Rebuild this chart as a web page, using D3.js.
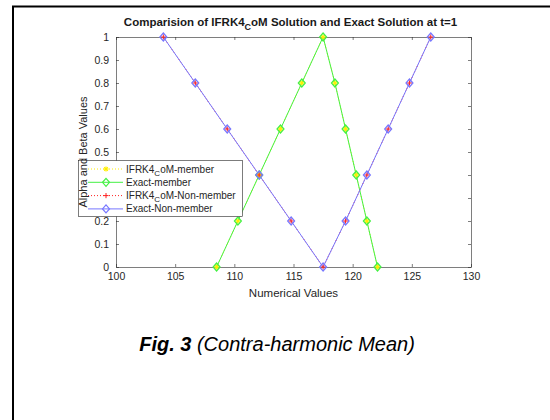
<!DOCTYPE html>
<html>
<head>
<meta charset="utf-8">
<script src="https://cdn.jsdelivr.net/npm/d3@7"></script>
<style>
  body { margin: 0; background: #fff; }
  svg { display: block; font-family: "Liberation Sans", Arial, sans-serif; }
</style>
</head>
<body>
<div id="chart"></div>
<script>
// values
var alphaLevels = [0, 0.2, 0.4, 0.6, 0.8, 1, 0.8, 0.6, 0.4, 0.2, 0];
var memberX = [108.5, 110.3, 112.1, 113.9, 115.7, 117.5, 118.5, 119.4, 120.3, 121.2, 122.1];
var betaLevels = [1, 0.8, 0.6, 0.4, 0.2, 0, 0.2, 0.4, 0.6, 0.8, 1];
var nonMemberX = [104.0, 106.7, 109.4, 112.1, 114.8, 117.5, 119.4, 121.2, 123.0, 124.8, 126.6];
var xTicks = [100, 105, 110, 115, 120, 125, 130];
var yTicks = [0, 0.1, 0.2, 0.3, 0.4, 0.5, 0.6, 0.7, 0.8, 0.9, 1];
var legendNames = ["IFRK4|oM-member", "Exact-member", "IFRK4|oM-Non-member", "Exact-Non-member"];

var svgWidth = 550, svgHeight = 420;
var plot = { left: 116, right: 471, top: 37, bottom: 267 };

var svg = d3.select("#chart").append("svg")
  .attr("width", svgWidth)
  .attr("height", svgHeight);

// page frame (only top and left edges show)
svg.append("path")
  .attr("d", "M13,420 V6.5 H550")
  .attr("fill", "none")
  .attr("stroke", "#000")
  .attr("stroke-width", 2);

var x = d3.scaleLinear().domain([100, 130]).range([plot.left, plot.right]);
var y = d3.scaleLinear().domain([0, 1]).range([plot.bottom, plot.top]);

var axisColor = "#262626";

// axes with ticks inward, box on all four sides
var gx = svg.append("g").attr("transform", `translate(0,${plot.bottom})`)
  .call(d3.axisBottom(x).tickValues(xTicks).tickSizeInner(-3).tickSizeOuter(0).tickPadding(6).tickFormat(d3.format("d")));
var gxTop = svg.append("g").attr("transform", `translate(0,${plot.top})`)
  .call(d3.axisTop(x).tickValues(xTicks).tickSizeInner(-3).tickSizeOuter(0).tickFormat(""));
var gy = svg.append("g").attr("transform", `translate(${plot.left},0)`)
  .call(d3.axisLeft(y).tickValues(yTicks).tickSizeInner(-3).tickSizeOuter(0).tickPadding(7).tickFormat(d => d3.format("")(+d.toFixed(1))));
var gyRight = svg.append("g").attr("transform", `translate(${plot.right},0)`)
  .call(d3.axisRight(y).tickValues(yTicks).tickSizeInner(-3).tickSizeOuter(0).tickFormat(""));

[gx, gxTop, gy, gyRight].forEach(function(g) {
  g.selectAll("path, line").attr("stroke", axisColor).attr("stroke-width", 0.6);
  g.selectAll("text").attr("fill", axisColor).style("font-size", "10.5px").style("font-family", "Liberation Sans, Arial, sans-serif");
});

// title
var title = svg.append("text")
  .attr("x", (plot.left + plot.right) / 2 - 3)
  .attr("y", 26)
  .attr("text-anchor", "middle")
  .style("font-size", "11.5px")
  .style("font-weight", "bold")
  .attr("fill", "#1a1a1a");
title.append("tspan").text("Comparision of IFRK4");
title.append("tspan").attr("dy", 3.5).style("font-size", "9px").text("C");
title.append("tspan").attr("dy", -3.5).text("oM Solution and Exact Solution at t=1");

// x label
svg.append("text")
  .attr("x", (plot.left + plot.right) / 2)
  .attr("y", 297)
  .attr("text-anchor", "middle")
  .style("font-size", "11.5px")
  .attr("fill", axisColor)
  .text("Numerical Values");

var line = d3.line()
  .x(d => x(d[0]))
  .y(d => y(d[1]));

var memberData = memberX.map((v, i) => [v, alphaLevels[i]]);
var nonMemberData = nonMemberX.map((v, i) => [v, betaLevels[i]]);

var green = "#44f044", blue = "#7777ff", yellow = "#ffee00", red = "#ff2020";

function diamond(g, cx, cy, color) {
  g.append("path")
    .attr("d", `M${cx},${cy - 4} L${cx + 3.5},${cy} L${cx},${cy + 4} L${cx - 3.5},${cy} Z`)
    .attr("fill", "none")
    .attr("stroke", color)
    .attr("stroke-width", 1.2);
}
function star(g, cx, cy, color) {
  var r = 2.6;
  [0, 45, 90, 135].forEach(function(a) {
    var rad = a * Math.PI / 180;
    g.append("line")
      .attr("x1", cx - r * Math.cos(rad)).attr("y1", cy - r * Math.sin(rad))
      .attr("x2", cx + r * Math.cos(rad)).attr("y2", cy + r * Math.sin(rad))
      .attr("stroke", color).attr("stroke-width", 1.2);
  });
}
function plus(g, cx, cy, color) {
  var r = 2.6;
  g.append("line").attr("x1", cx - r).attr("x2", cx + r).attr("y1", cy).attr("y2", cy)
    .attr("stroke", color).attr("stroke-width", 1);
  g.append("line").attr("x1", cx).attr("x2", cx).attr("y1", cy - r).attr("y2", cy + r)
    .attr("stroke", color).attr("stroke-width", 1);
}

var marks = svg.append("g");

// IFRK4 series (dotted) sit under the exact series
marks.append("path").datum(memberData).attr("d", line)
  .attr("fill", "none").attr("stroke", yellow).attr("stroke-width", 1).attr("stroke-dasharray", "1,2");
marks.append("path").datum(memberData).attr("d", line)
  .attr("fill", "none").attr("stroke", green).attr("stroke-width", 1);
marks.append("path").datum(nonMemberData).attr("d", line)
  .attr("fill", "none").attr("stroke", red).attr("stroke-width", 1).attr("stroke-dasharray", "1,2");
marks.append("path").datum(nonMemberData).attr("d", line)
  .attr("fill", "none").attr("stroke", blue).attr("stroke-width", 1);

memberData.forEach(function(d) {
  star(marks, x(d[0]), y(d[1]), yellow);
  diamond(marks, x(d[0]), y(d[1]), green);
});
nonMemberData.forEach(function(d) {
  plus(marks, x(d[0]), y(d[1]), red);
  diamond(marks, x(d[0]), y(d[1]), blue);
});

// legend
var legend = svg.append("g");
legend.append("rect")
  .attr("x", 78.5).attr("y", 160.5)
  .attr("width", 164).attr("height", 56)
  .attr("fill", "#fff")
  .attr("stroke", axisColor)
  .attr("stroke-width", 0.6);

var legendStyles = [
  { color: yellow, dash: "1,2", mark: star },
  { color: green, dash: null, mark: diamond },
  { color: red, dash: "1,2", mark: plus },
  { color: blue, dash: null, mark: diamond }
];
legendNames.forEach(function(name, i) {
  var ly = 169 + i * 13.3;
  var s = legendStyles[i];
  legend.append("line")
    .attr("x1", 88).attr("x2", 123).attr("y1", ly).attr("y2", ly)
    .attr("stroke", s.color).attr("stroke-width", 1)
    .attr("stroke-dasharray", s.dash);
  s.mark(legend, 106, ly, s.color);
  var t = legend.append("text")
    .attr("x", 126).attr("y", ly + 3.5)
    .style("font-size", "10px")
    .attr("fill", axisColor);
  var parts = name.split("|");
  if (parts.length > 1) {
    t.append("tspan").text(parts[0]);
    t.append("tspan").attr("dy", 3).style("font-size", "8px").text("C");
    t.append("tspan").attr("dy", -3).text(parts[1]);
  } else {
    t.text(name);
  }
});

// y label (drawn over the legend like the original)
svg.append("text")
  .attr("transform", `translate(87,${(plot.top + plot.bottom) / 2}) rotate(-90)`)
  .attr("text-anchor", "middle")
  .style("font-size", "11px")
  .attr("fill", axisColor)
  .text("Alpha and Beta Values");

// caption
var caption = svg.append("text")
  .attr("x", 277)
  .attr("y", 351)
  .attr("text-anchor", "middle")
  .style("font-size", "20px")
  .style("font-style", "italic")
  .attr("fill", "#000");
caption.append("tspan").style("font-weight", "bold").text("Fig. 3");
caption.append("tspan").text(" (Contra-harmonic Mean)");
</script>
</body>
</html>
